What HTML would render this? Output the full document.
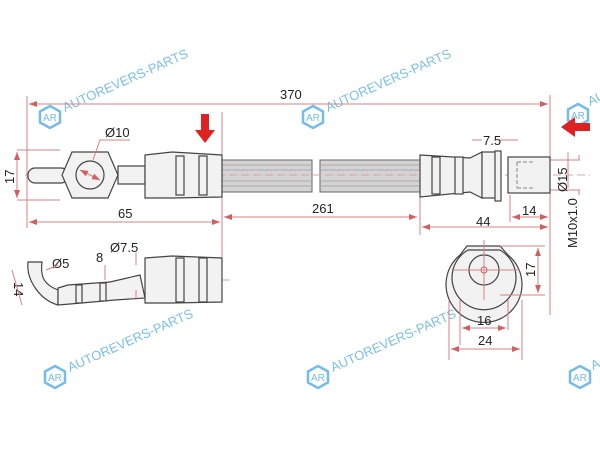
<!DOCTYPE html>
<html><head><meta charset="utf-8"><style>
html,body{margin:0;padding:0;background:#fff;width:600px;height:450px;overflow:hidden}
svg{display:block}
text{font-family:"Liberation Sans",sans-serif;fill:#222}
.d{stroke:#d98080;stroke-width:1;fill:none}
.c{stroke:#e0a0a0;stroke-width:1;stroke-dasharray:8 4;fill:none}
.o{stroke:#444;stroke-width:1.2;fill:#f2f2f2}
.w{fill:#3aa0e0;font-size:13px;opacity:.8}
</style></head><body>
<svg width="600" height="450" viewBox="0 0 600 450">
<defs>
<marker id="a" markerWidth="8" markerHeight="6" refX="8" refY="3" orient="auto-start-reverse"><path d="M0,0L8,3L0,6z" fill="#d06060"/></marker>
<g id="logo"><path d="M0,-11L10,-5.5L10,5.5L0,11L-10,5.5L-10,-5.5z" fill="none" stroke="#5ab0e8" stroke-width="2.5"/><text x="-7" y="4" font-size="10" style="fill:#5ab0e8">AR</text></g>
</defs>
<g opacity="0.85">
<use href="#logo" x="50" y="117"/><text class="w" transform="translate(65,112) rotate(-24)">AUTOREVERS-PARTS</text>
<use href="#logo" x="313" y="117"/><text class="w" transform="translate(328,112) rotate(-24)">AUTOREVERS-PARTS</text>
<use href="#logo" x="578" y="115"/><text class="w" transform="translate(590,106) rotate(-24)">AU</text>
<use href="#logo" x="55" y="377"/><text class="w" transform="translate(70,372) rotate(-24)">AUTOREVERS-PARTS</text>
<use href="#logo" x="318" y="377"/><text class="w" transform="translate(333,372) rotate(-24)">AUTOREVERS-PARTS</text>
<use href="#logo" x="580" y="377"/><text class="w" transform="translate(593,370) rotate(-24)">A</text>
</g>
<path class="d" d="M27,96V228M550,95V315M222,112V300M420,195V235M510,195V222M17,150H60M17,200H60"/>
<line class="d" x1="29" y1="104" x2="548" y2="104" marker-start="url(#a)" marker-end="url(#a)"/>
<text x="280" y="99" font-size="13">370</text>
<line class="d" x1="29" y1="222" x2="220" y2="222" marker-start="url(#a)" marker-end="url(#a)"/>
<text x="118" y="218" font-size="13">65</text>
<line class="d" x1="224" y1="217" x2="417" y2="217" marker-start="url(#a)" marker-end="url(#a)"/>
<text x="312" y="213" font-size="13">261</text>
<line class="d" x1="422" y1="227" x2="548" y2="227" marker-start="url(#a)" marker-end="url(#a)"/>
<text x="476" y="226" font-size="13">44</text>
<line class="d" x1="512" y1="217" x2="548" y2="217" marker-start="url(#a)" marker-end="url(#a)"/>
<text x="522" y="215" font-size="13">14</text>
<line class="d" x1="17" y1="152" x2="17" y2="198" marker-start="url(#a)" marker-end="url(#a)"/>
<text transform="translate(14,184) rotate(-90)" font-size="13">17</text>
<path class="d" d="M472,140H482M498,140H518M510,160H580M510,190H580M568,152V188"/>
<text x="483" y="145" font-size="13">7.5</text>
<text transform="translate(567,192) rotate(-90)" font-size="13">Ø15</text>
<text transform="translate(577,248) rotate(-90)" font-size="13">M10x1.0</text>
<path class="d" d="M579,155V160M579,190V195"/>
<rect x="222" y="160" width="90" height="32" fill="#d4d4d4" stroke="#666"/>
<rect x="320" y="160" width="100" height="32" fill="#d4d4d4" stroke="#666"/>
<g stroke="#aaa"><path d="M222,165H312M222,170H312M222,181H312M222,186H312M320,165H420M320,170H420M320,181H420M320,186H420"/></g>
<line class="c" x1="25" y1="175" x2="590" y2="175"/>
<rect x="28" y="168" width="40" height="15" rx="7" class="o"/>
<path class="o" d="M72,152L108,152L118,175L108,198L72,198L62,175z"/>
<circle cx="90" cy="175" r="14" class="o"/>
<line class="d" x1="80" y1="170" x2="100" y2="180" marker-start="url(#a)" marker-end="url(#a)"/>
<path class="d" d="M93,160L100,140H130"/>
<text x="105" y="137" font-size="13">Ø10</text>
<rect x="118" y="166" width="27" height="18" class="o"/>
<path class="o" d="M145,155L172,152L222,155V197L172,198L145,198z"/>
<rect x="176" y="156" width="8" height="39" class="o"/><rect x="199" y="156" width="8" height="39" class="o"/>
<path d="M201,114H209V130H215L205,143L195,130H201z" fill="#d22"/>
<path class="o" d="M420,155L470,158L482,152V198L470,192L420,197z"/>
<rect x="432" y="157" width="8" height="37" class="o"/><rect x="455" y="157" width="8" height="37" class="o"/>
<rect x="482" y="152" width="18" height="46" class="o"/>
<rect x="495" y="151" width="6" height="50" class="o"/>
<rect x="508" y="157" width="42" height="36" class="o"/>
<path d="M517,162H535M517,188H535M517,162V188" stroke="#888" fill="none" stroke-dasharray="4 2"/>
<path d="M590,123V131H575V137L561,127L575,117V123z" fill="#d22"/>
<line class="c" x1="150" y1="280" x2="230" y2="280"/>
<path class="o" d="M28,262C26,280 40,300 58,305L58,290C45,285 40,278 42,262z"/>
<path class="o" d="M58,288L68,285L110,282L140,275L145,298L115,300L70,304L58,305z"/>
<rect x="76" y="285" width="6" height="18" class="o"/><rect x="100" y="283" width="6" height="18" class="o"/>
<path class="o" d="M145,258L172,256L222,258V302L172,303L145,303z"/>
<rect x="176" y="258" width="8" height="44" class="o"/><rect x="199" y="258" width="8" height="44" class="o"/>
<text x="52" y="268" font-size="13">Ø5</text>
<text x="96" y="262" font-size="13">8</text>
<text x="110" y="252" font-size="13">Ø7.5</text>
<text transform="translate(14,282) rotate(90)" font-size="13">14</text>
<path class="d" d="M12,270L22,305M46,270L58,265M136,253V265M136,290V300M105,265V280"/>
<path class="o" d="M467,246H500L508,255A38,38 0 1 1 460,255z"/>
<path class="o" d="M468,250H500A32,32 0 1 1 468,250z" fill="#f6f6f6"/>
<circle cx="484" cy="270" r="15" class="o"/>
<circle cx="484" cy="270" r="3" fill="#fff" stroke="#c55"/>
<path class="d" d="M484,240V300M454,270H520M500,246H545M500,295H545M460,300V345M508,300V330M449,300V360M522,300V360"/>
<line class="d" x1="538" y1="248" x2="538" y2="293" marker-start="url(#a)" marker-end="url(#a)"/>
<text transform="translate(535,277) rotate(-90)" font-size="13">17</text>
<line class="d" x1="462" y1="328" x2="506" y2="328" marker-start="url(#a)" marker-end="url(#a)"/>
<text x="477" y="325" font-size="13">16</text>
<line class="d" x1="451" y1="349" x2="520" y2="349" marker-start="url(#a)" marker-end="url(#a)"/>
<text x="478" y="345" font-size="13">24</text>
</svg>
</body></html>
